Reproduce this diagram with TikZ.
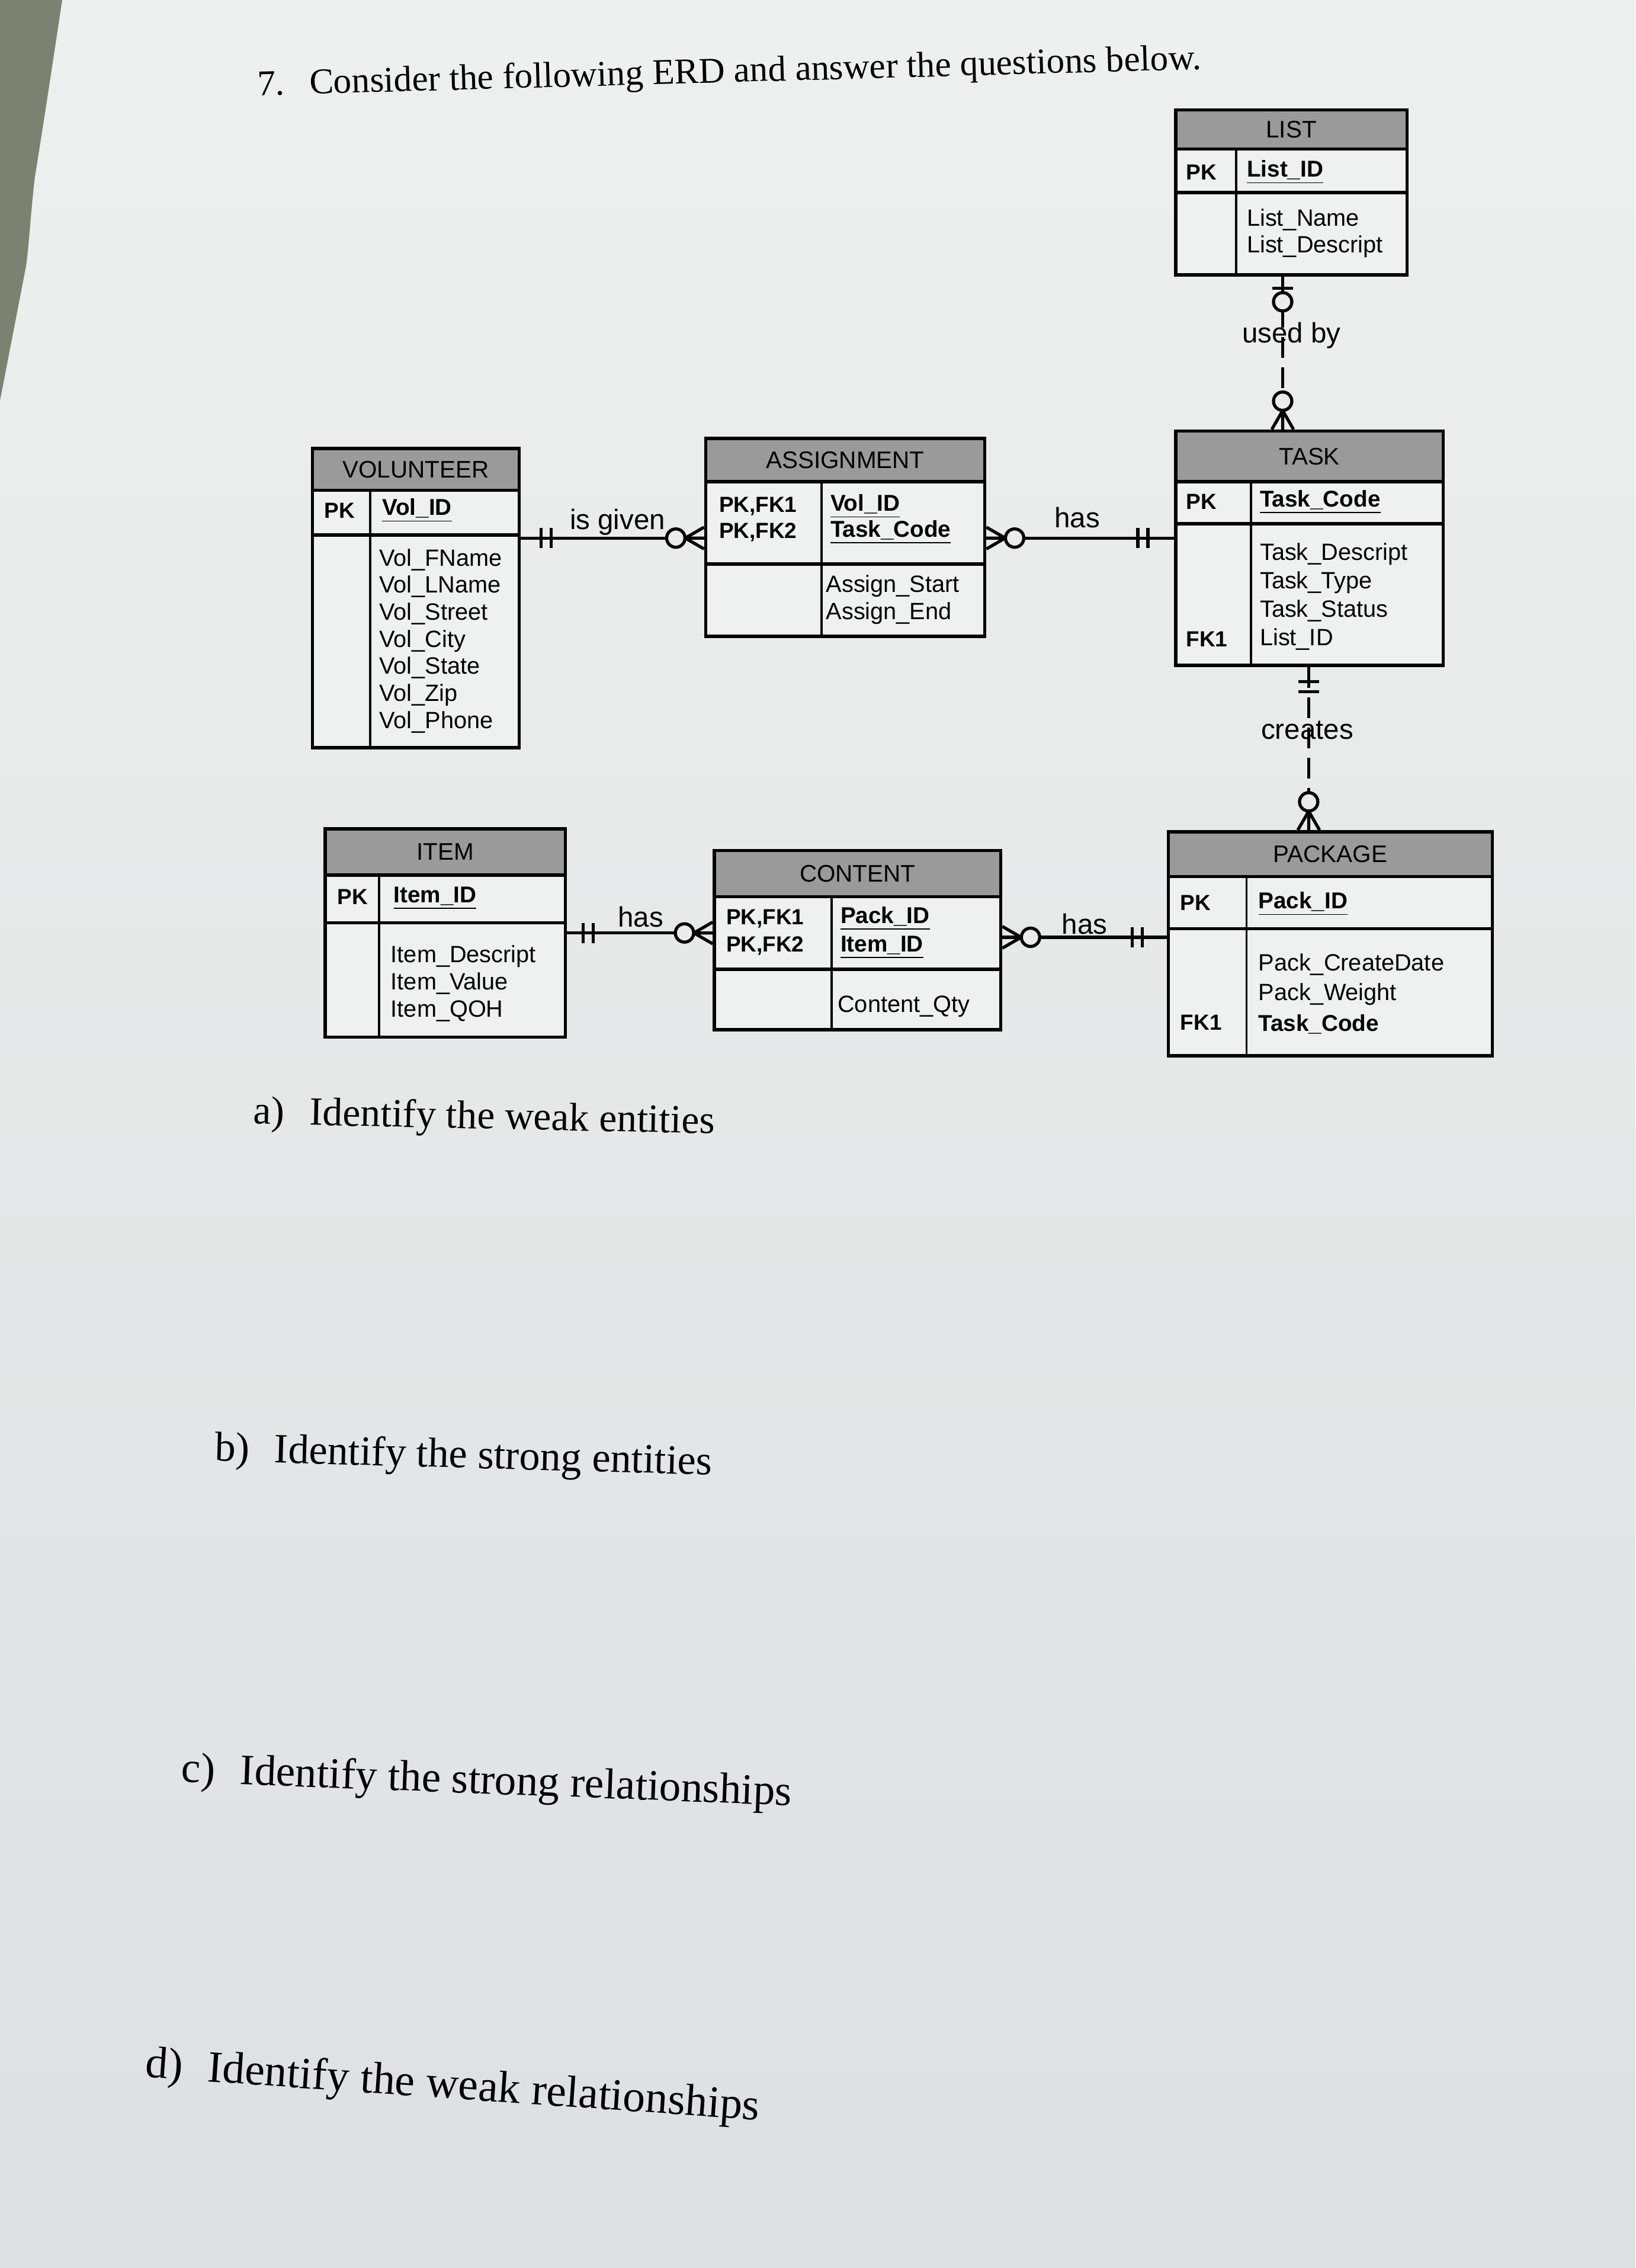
\documentclass[tikz,border=0pt]{standalone}
\usepackage{fontspec}
\setmainfont{Liberation Serif}
\setsansfont{Liberation Sans}
\usepackage{xcolor}
\usepackage{tikz}
\usetikzlibrary{calc,fit}
\definecolor{paperhi}{RGB}{238,240,239}
\definecolor{paperlo}{RGB}{221,224,225}
\definecolor{paper}{RGB}{234,236,235}
\definecolor{desk}{RGB}{124,129,114}
\definecolor{headgray}{RGB}{154,154,154}
\definecolor{cellfill}{RGB}{239,241,240}
\tikzset{
  ehead/.style={draw,line width=1.6pt,fill=headgray,inner sep=0pt},
  htext/.style={inner sep=0pt,font=\sffamily\fontsize{11.5}{13}\selectfont},
  ebody/.style={draw,line width=1.6pt,fill=cellfill,inner sep=0pt},
  ecol/.style={line width=1.1pt},
  key/.style={anchor=west,inner sep=0pt,font=\sffamily\bfseries\fontsize{10.5}{13}\selectfont},
  pkey/.style={anchor=west,inner sep=0pt,font=\sffamily\bfseries\fontsize{11}{13}\selectfont},
  attr/.style={anchor=west,inner sep=0pt,font=\sffamily\fontsize{11.3}{13}\selectfont},
  rlabel/.style={inner sep=0pt,font=\sffamily\fontsize{13.5}{15}\selectfont},
  rel/.style={line width=1.5pt},
  nrel/.style={line width=1.5pt,dash pattern=on 10pt off 4.5pt},
  cmark/.style={line width=1.5pt},
  question/.style={anchor=base west,inner sep=0pt,font=\fontsize{20}{24}\selectfont},
  twobar/.pic={\draw[cmark] (0,-7) -- (0,7) (7,-7) -- (7,7);},
  manyopt/.pic={\draw[cmark] (-13,0) -- (0,-7.5) (-13,0) -- (0,0) (-13,0) -- (0,7.5);
    \draw[cmark,fill=paper] (-19.5,0) circle (4.4pt);},
  oneopt/.pic={\draw[cmark] (-8,-7) -- (-8,7);
    \draw[cmark,fill=paper] (-17.5,0) circle (4.4pt);},
}
\begin{document}
\begin{tikzpicture}[x=0.02441cm,y=-0.02441cm]
\useasboundingbox (0,0) rectangle (1131,1568);
\fill[top color=paperhi,bottom color=paperlo] (0,0) rectangle (1131,1568);
\fill[desk] (0,0) -- (43,0) .. controls (34,60) and (27,105) .. (24,123) .. controls (21,150) and (20,170) .. (18,184) -- (0,277) -- cycle;

\node[question,rotate=1.6,font=\fontsize{17.4}{20}\selectfont] (q0) at (178,66) {7.\hspace{12pt}Consider the following ERD and answer the questions below.};

\node[ehead,fit={(813,76)(973,103)}] (list) {};
\node[htext] (list-t) at (list.center) {LIST};
\node[ebody,fit={(813,103)(973,133)}] (list-pk) {};
\node[ebody,fit={(813,133)(973,190)}] (list-at) {};
\draw[ecol] (855,103) -- (855,190);
\node[key] (list-k1) at (820,119) {PK};
\node[pkey] (list-id) at (862,119) {\underline{List\_ID}};
\foreach \t [count=\i from 0] in {List\_Name,List\_Descript}
  \node[attr] (list-a\i) at (862,{152+18.5*\i}) {\t};

\node[ehead,fit={(813,298)(998,333)}] (task) {};
\node[htext] (task-t) at (task.center) {TASK};
\node[ebody,fit={(813,333)(998,362)}] (task-pk) {};
\node[ebody,fit={(813,362)(998,460)}] (task-at) {};
\draw[ecol] (865,333) -- (865,460);
\node[key] (task-k1) at (820,347) {PK};
\node[pkey] (task-id) at (871,347) {\underline{Task\_Code}};
\foreach \t [count=\i from 0] in {Task\_Descript,Task\_Type,Task\_Status,List\_ID}
  \node[attr] (task-a\i) at (871,{383+19.6*\i}) {\t};
\node[key] (task-k2) at (820,442) {FK1};

\node[ehead,fit={(488,303)(681,333)}] (asg) {};
\node[htext] (asg-t) at (asg.center) {ASSIGNMENT};
\node[ebody,fit={(488,333)(681,390)}] (asg-pk) {};
\node[ebody,fit={(488,390)(681,440)}] (asg-at) {};
\draw[ecol] (568,333) -- (568,440);
\node[key] (asg-k1) at (497,350) {PK,FK1};
\node[key] (asg-k2) at (497,368) {PK,FK2};
\node[pkey] (asg-id1) at (574,350) {\underline{Vol\_ID}};
\node[pkey] (asg-id2) at (574,368) {\underline{Task\_Code}};
\node[attr] (asg-a1) at (571,405) {Assign\_Start};
\node[attr] (asg-a2) at (571,424) {Assign\_End};

\node[ehead,fit={(216,310)(359,339)}] (vol) {};
\node[htext] (vol-t) at (vol.center) {VOLUNTEER};
\node[ebody,fit={(216,339)(359,370)}] (vol-pk) {};
\node[ebody,fit={(216,370)(359,517)}] (vol-at) {};
\draw[ecol] (256,339) -- (256,517);
\node[key] (vol-k1) at (224,353) {PK};
\node[pkey] (vol-id) at (264,353) {\underline{Vol\_ID}};
\foreach \t [count=\i from 0] in {Vol\_FName,Vol\_LName,Vol\_Street,Vol\_City,Vol\_State,Vol\_Zip,Vol\_Phone}
  \node[attr] (vol-a\i) at (262,{387+18.7*\i}) {\t};

\node[ehead,fit={(225,573)(391,605)}] (item) {};
\node[htext] (item-t) at (item.center) {ITEM};
\node[ebody,fit={(225,605)(391,638)}] (item-pk) {};
\node[ebody,fit={(225,638)(391,717)}] (item-at) {};
\draw[ecol] (262,605) -- (262,717);
\node[key] (item-k1) at (233,620) {PK};
\node[pkey] (item-id) at (272,621) {\underline{Item\_ID}};
\foreach \t [count=\i from 0] in {Item\_Descript,Item\_Value,Item\_QOH}
  \node[attr] (item-a\i) at (270,{661+19*\i}) {\t};

\node[ehead,fit={(494,588)(692,620)}] (cont) {};
\node[htext] (cont-t) at (cont.center) {CONTENT};
\node[ebody,fit={(494,620)(692,670)}] (cont-pk) {};
\node[ebody,fit={(494,670)(692,712)}] (cont-at) {};
\draw[ecol] (575,620) -- (575,712);
\node[key] (cont-k1) at (502,635) {PK,FK1};
\node[key] (cont-k2) at (502,654) {PK,FK2};
\node[pkey] (cont-id1) at (581,635) {\underline{Pack\_ID}};
\node[pkey] (cont-id2) at (581,655) {\underline{Item\_ID}};
\node[attr] (cont-a1) at (579,696) {Content\_Qty};

\node[ehead,fit={(808,575)(1032,606)}] (pack) {};
\node[htext] (pack-t) at (pack.center) {PACKAGE};
\node[ebody,fit={(808,606)(1032,642)}] (pack-pk) {};
\node[ebody,fit={(808,642)(1032,730)}] (pack-at) {};
\draw[ecol] (862,606) -- (862,730);
\node[key] (pack-k1) at (816,624) {PK};
\node[pkey] (pack-id) at (870,625) {\underline{Pack\_ID}};
\foreach \t [count=\i from 0] in {Pack\_CreateDate,Pack\_Weight}
  \node[attr] (pack-a\i) at (870,{667+20.5*\i}) {\t};
\node[pkey] (pack-a2) at (870,708) {Task\_Code};
\node[key] (pack-k2) at (816,707) {FK1};

\coordinate (r-given) at (420,372);
\draw[rel] (vol-at.east |- r-given) -- (asg-pk.west |- r-given);
\pic at ($(vol-at.east |- r-given)+(14,0)$) {twobar};
\pic at (asg-pk.west |- r-given) {manyopt};
\node[rlabel] (l-given) at (427,361) {is given};

\coordinate (r-has1) at (745,372);
\draw[rel] (asg-pk.east |- r-has1) -- (task-at.west |- r-has1);
\pic[rotate=180] at (asg-pk.east |- r-has1) {manyopt};
\pic at ($(task-at.west |- r-has1)+(-25,0)$) {twobar};
\node[rlabel] (l-has1) at (745,358) {has};

\coordinate (r-used) at (887,240);
\draw[nrel] (list-at.south -| r-used) -- (task.north -| r-used);
\pic[rotate=90] at (list-at.south -| r-used) {oneopt};
\pic[rotate=-90] at (task.north -| r-used) {manyopt};
\node[rlabel] (l-used) at (893,232) {used by};

\coordinate (r-creates) at (905,510);
\draw[nrel] (task-at.south -| r-creates) -- (pack.north -| r-creates);
\pic[rotate=-90] at ($(task-at.south -| r-creates)+(0,10)$) {twobar};
\pic[rotate=-90] at (pack.north -| r-creates) {manyopt};
\node[rlabel] (l-creates) at (904,505) {creates};

\coordinate (r-has2) at (443,645);
\draw[rel] (item-at.east |- r-has2) -- (cont-pk.west |- r-has2);
\pic at ($(item-at.east |- r-has2)+(11,0)$) {twobar};
\pic at (cont-pk.west |- r-has2) {manyopt};
\node[rlabel] (l-has2) at (443,634) {has};

\coordinate (r-has3) at (750,648);
\draw[rel] (cont-pk.east |- r-has3) -- (pack-at.west |- r-has3);
\pic[rotate=180] at (cont-pk.east |- r-has3) {manyopt};
\pic at ($(pack-at.west |- r-has3)+(-24,0)$) {twobar};
\node[rlabel] (l-has3) at (750,639) {has};

\node[question,rotate=-1.2,font=\fontsize{19.2}{23}\selectfont] (qa) at (175,777) {a)\hspace{12pt}Identify the weak entities};
\node[question,rotate=-1.6] (qb) at (148,1010) {b)\hspace{12pt}Identify the strong entities};
\node[question,rotate=-2.2,font=\fontsize{20.8}{24}\selectfont] (qc) at (125,1232) {c)\hspace{12pt}Identify the strong relationships};
\node[question,rotate=-4,font=\fontsize{21.5}{25}\selectfont] (qd) at (100,1436) {d)\hspace{12pt}Identify the weak relationships};
\end{tikzpicture}
\end{document}
